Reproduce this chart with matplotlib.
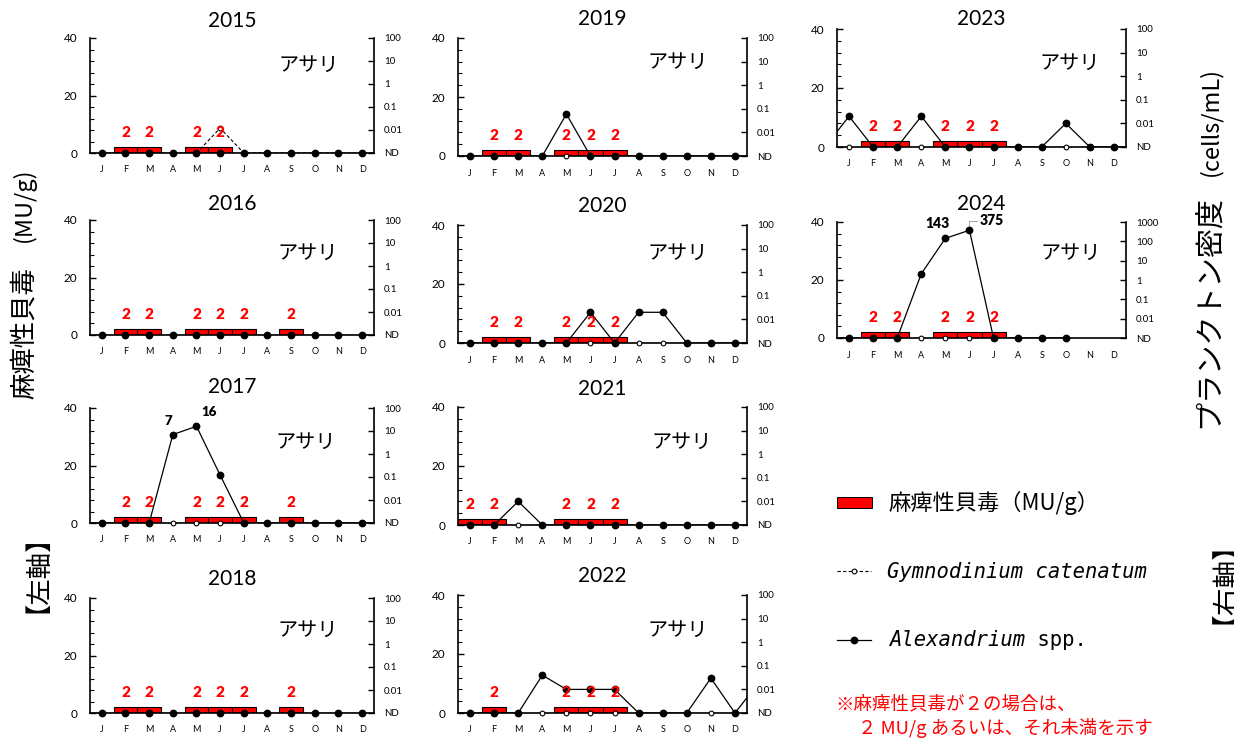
import matplotlib
matplotlib.use('Agg')
import matplotlib.pyplot as plt
import numpy as np
from matplotlib.patches import Rectangle
from matplotlib.lines import Line2D
from matplotlib.ticker import FixedLocator, MultipleLocator, NullFormatter

plt.rcParams['font.family'] = ['Lato', 'Noto Sans CJK JP', 'DejaVu Sans']

ND = 0.001  # "ND" position on the right (log) axis

months = ['J', 'F', 'M', 'A', 'M', 'J', 'J', 'A', 'S', 'O', 'N', 'D']
years = [2015, 2016, 2017, 2018, 2019, 2020, 2021, 2022, 2023, 2024]

# 麻痺性貝毒 (MU/g) ; 0 = no bar
psp_2015 = [0, 2, 2, 0, 2, 2, 0, 0, 0, 0, 0, 0]
psp_2016 = [0, 2, 2, 0, 2, 2, 2, 0, 2, 0, 0, 0]
psp_2017 = [0, 2, 2, 0, 2, 2, 2, 0, 2, 0, 0, 0]
psp_2018 = [0, 2, 2, 0, 2, 2, 2, 0, 2, 0, 0, 0]
psp_2019 = [0, 2, 2, 0, 2, 2, 2, 0, 0, 0, 0, 0]
psp_2020 = [0, 2, 2, 0, 2, 2, 2, 0, 0, 0, 0, 0]
psp_2021 = [2, 2, 0, 0, 2, 2, 2, 0, 0, 0, 0, 0]
psp_2022 = [0, 2, 0, 0, 2, 2, 2, 0, 0, 0, 0, 0]
psp_2023 = [0, 2, 2, 0, 2, 2, 2, 0, 0, 0, 0, 0]
psp_2024 = [0, 2, 2, 0, 2, 2, 2, 0, 0, 0, 0, 0]

# Alexandrium spp. (cells/mL)
alex_2015 = [ND, ND, ND, ND, ND, ND, ND, ND, ND, ND, ND, ND]
alex_2016 = [ND, ND, ND, ND, ND, ND, ND, ND, ND, ND, ND, ND]
alex_2017 = [ND, ND, ND, 7, 16, 0.12, ND, ND, ND, ND, ND, ND]
alex_2018 = [ND, ND, ND, ND, ND, ND, ND, ND, ND, ND, ND, ND]
alex_2019 = [ND, ND, ND, ND, 0.06, ND, ND, ND, ND, ND, ND, ND]
alex_2020 = [ND, ND, ND, ND, ND, 0.02, ND, 0.02, 0.02, ND, ND, ND]
alex_2021 = [ND, ND, 0.01, ND, ND, ND, ND, ND, ND, ND, ND, ND]
alex_2022 = [ND, ND, ND, 0.04, 0.01, 0.01, 0.01, ND, ND, ND, 0.03, ND]
alex_2023 = [0.02, ND, ND, 0.02, ND, ND, ND, ND, ND, 0.01, ND, ND]
alex_2024 = [ND, ND, ND, 2.1, 143, 375, ND, ND, ND, ND, None, None]

# Gymnodinium catenatum (cells/mL)
gym_2015 = [ND, ND, ND, ND, ND, 0.012, ND, ND, ND, ND, ND, ND]
gym_2016 = [ND, ND, ND, ND, ND, ND, ND, ND, ND, ND, ND, ND]
gym_2017 = [ND, ND, ND, ND, ND, ND, ND, ND, ND, ND, ND, ND]
gym_2018 = [ND, ND, ND, ND, ND, ND, ND, ND, ND, ND, ND, ND]
gym_2019 = [ND, ND, ND, ND, ND, ND, ND, ND, ND, ND, ND, ND]
gym_2020 = [ND, ND, ND, ND, ND, ND, ND, ND, ND, ND, ND, ND]
gym_2021 = [ND, ND, ND, ND, ND, ND, ND, ND, ND, ND, ND, ND]
gym_2022 = [ND, ND, ND, ND, ND, ND, ND, ND, ND, ND, ND, ND]
gym_2023 = [ND, ND, ND, ND, ND, ND, ND, ND, ND, ND, ND, ND]
gym_2024 = [ND, ND, ND, ND, ND, ND, ND, ND, ND, ND, None, None]

psp_all = [psp_2015, psp_2016, psp_2017, psp_2018, psp_2019,
           psp_2020, psp_2021, psp_2022, psp_2023, psp_2024]
alex_all = [alex_2015, alex_2016, alex_2017, alex_2018, alex_2019,
            alex_2020, alex_2021, alex_2022, alex_2023, alex_2024]
gym_all = [gym_2015, gym_2016, gym_2017, gym_2018, gym_2019,
           gym_2020, gym_2021, gym_2022, gym_2023, gym_2024]

# value labels on peaks: (year, month index, text)
peak_labels = [(2017, 3, '7'), (2017, 4, '16'), (2024, 4, '143'), (2024, 5, '375')]

# ---------------- layout (pixels) ----------------
W, H = 1234, 740
# year: (left, width, top, bottom, title gap px, species label x, y in axes fraction)
layout = {
    2015: (90, 284, 38, 153, 11, 0.77, 0.765),
    2016: (90, 284, 220, 335, 10, 0.765, 0.71),
    2017: (90, 284, 408, 523, 15, 0.76, 0.70),
    2018: (90, 284, 598, 713, 13, 0.765, 0.72),
    2019: (458, 289, 38, 156, 13, 0.76, 0.79),
    2020: (458, 289, 225, 343, 13, 0.76, 0.76),
    2021: (458, 289, 407, 525, 12, 0.775, 0.70),
    2022: (458, 289, 595, 713, 13, 0.76, 0.70),
    2023: (837, 289, 29, 147, 1, 0.805, 0.71),
    2024: (837, 289, 222, 338, 12, 0.81, 0.73),
}

fig = plt.figure(figsize=(W / 100, H / 100), dpi=100)
fig.patch.set_facecolor('white')

RED = '#FF0000'
x = np.arange(12)


def arr(v):
    return np.array([np.nan if a is None else a for a in v], dtype=float)


for k, yr in enumerate(years):
    left, width, top, bottom, gap, sx, sy = layout[yr]
    ax = fig.add_axes([left / W, 1 - bottom / H, width / W, (bottom - top) / H])
    ax2 = ax.twinx()

    # bars (left axis)
    psp = np.array(psp_all[k], dtype=float)
    ax.bar(x, psp, width=1.0, color=RED, edgecolor='black', linewidth=0.8, zorder=2)
    ax.set_xlim(-0.5, 11.5)
    ax.set_ylim(0, 40)
    ax.yaxis.set_major_locator(FixedLocator([0, 20, 40]))
    ax.yaxis.set_minor_locator(MultipleLocator(4))
    ax.tick_params(axis='y', which='major', direction='in', length=4, width=1,
                   labelsize=8.5, pad=9)
    ax.tick_params(axis='y', which='minor', direction='in', length=3, width=0.8)
    ax.set_xticks(x)
    ax.set_xticklabels(months)
    ax.tick_params(axis='x', which='major', length=0, labelsize=6.5, pad=9)
    for s in ['top', 'right']:
        ax.spines[s].set_visible(False)
    ax.spines['left'].set_linewidth(1.2)
    ax.spines['bottom'].set_linewidth(1.2)

    # right axis (log)
    ax2.set_yscale('log')
    if yr == 2024:
        rt = [0.001, 0.01, 0.1, 1, 10, 100, 1000]
        rl = ['ND', '0.01', '0.1', '1', '10', '100', '1000']
    else:
        rt = [0.001, 0.01, 0.1, 1, 10, 100]
        rl = ['ND', '0.01', '0.1', '1', '10', '100']
    ax2.set_ylim(rt[0], rt[-1])
    ax2.yaxis.set_major_locator(FixedLocator(rt))
    ax2.set_yticklabels(rl)
    ax2.yaxis.set_minor_formatter(NullFormatter())
    ax2.yaxis.set_minor_locator(FixedLocator([]))
    ax2.tick_params(axis='y', which='major', direction='in', length=4, width=1,
                    labelsize=7, pad=7)
    for s in ['top', 'left']:
        ax2.spines[s].set_visible(False)
    ax2.spines['right'].set_linewidth(1.2)
    ax2.spines['bottom'].set_visible(False)

    # series continue across years (neighbouring months drawn, clipped at edges)
    def extended(series_all):
        prev = series_all[k - 1][-1] if k > 0 else None
        nxt = series_all[k + 1][0] if k < len(years) - 1 else None
        return arr([prev] + list(series_all[k]) + [nxt])

    xe = np.arange(-1, 13)
    g = extended(gym_all)
    a = extended(alex_all)
    ax2.plot(xe, g, color='black', lw=0.8, ls=(0, (3, 2)), zorder=3)
    ax2.plot(x, arr(gym_all[k]), ls='none', marker='o', ms=3.4, mfc='white',
             mec='black', mew=0.8, clip_on=False, zorder=4)
    ax2.plot(xe, a, color='black', lw=0.9, zorder=5)
    ax2.plot(x, arr(alex_all[k]), ls='none', marker='o', ms=4.6, mfc='black',
             mec='black', clip_on=False, zorder=6)

    # "2" labels above bars
    for i, v in enumerate(psp_all[k]):
        if v > 0:
            ax2.text(i, 7, f'{v:g}', transform=ax.transData, color=RED,
                     fontsize=11, fontweight='heavy', ha='center', va='center',
                     zorder=7)

    # peak value labels
    for (py, pm, txt) in peak_labels:
        if py != yr:
            continue
        val = alex_all[k][pm]
        if txt == '7':
            ax2.annotate(txt, (pm, val), xytext=(-3, 10), textcoords='offset points',
                         ha='center', va='center', fontsize=9.5, fontweight='heavy')
        elif txt == '16':
            ax2.annotate(txt, (pm, val), xytext=(9, 10), textcoords='offset points',
                         ha='center', va='center', fontsize=9.5, fontweight='heavy')
        elif txt == '143':
            ax2.annotate(txt, (pm, val), xytext=(-6, 11), textcoords='offset points',
                         ha='center', va='center', fontsize=10, fontweight='heavy',
                         arrowprops=dict(arrowstyle='-', color='#A0A0A0', lw=0.7,
                                         shrinkA=4, shrinkB=2))
        else:
            ax2.annotate(txt, (pm, val), xytext=(16, 7), textcoords='offset points',
                         ha='center', va='center', fontsize=10, fontweight='heavy',
                         arrowprops=dict(arrowstyle='-', color='#A0A0A0', lw=0.7,
                                         connectionstyle='angle,angleA=0,angleB=90',
                                         shrinkA=11, shrinkB=3))

    ax.set_title(str(yr), fontsize=15, pad=gap * 0.72)
    ax.text(sx, sy, 'アサリ', transform=ax.transAxes, fontsize=14.5,
            family=['Noto Sans CJK JP'], ha='center', va='center')
    ax.set_zorder(1)
    ax2.set_zorder(2)
    ax.patch.set_visible(False)

# ---------------- legend, notes and axis titles (pixel overlay) ----------------
ov = fig.add_axes([0, 0, 1, 1], zorder=10)
ov.set_xlim(0, W)
ov.set_ylim(H, 0)
ov.axis('off')
ov.patch.set_visible(False)

JP = ['Noto Sans CJK JP', 'DejaVu Sans']
ov.add_patch(Rectangle((837, 497), 35, 11, facecolor=RED, edgecolor='black', lw=0.7))
ov.text(888, 503, '麻痺性貝毒（MU/g）', fontsize=16, family=JP, va='center', ha='left')

ov.add_line(Line2D([837, 871], [571, 571], color='black', lw=0.8, ls=(0, (3, 2))))
ov.plot([854], [571], marker='o', ms=3.4, mfc='white', mec='black', mew=0.8)
ov.text(887, 572, 'Gymnodinium catenatum', fontsize=14.8, family='DejaVu Sans Mono',
        style='italic', va='center', ha='left')

ov.add_line(Line2D([837, 871], [640, 640], color='black', lw=0.9))
ov.plot([854], [640], marker='o', ms=4.6, mfc='black', mec='black')
t_alex = ov.text(889, 640, 'Alexandrium', fontsize=14.8, family='DejaVu Sans Mono',
                 style='italic', va='center', ha='left')
ov.annotate(' spp.', xy=(1, 0.5), xycoords=t_alex, fontsize=14.8,
            family='DejaVu Sans Mono', va='center', ha='left')

ov.text(835, 704, '※麻痺性貝毒が２の場合は、', fontsize=13.3, family=JP, color=RED,
        va='center', ha='left')
ov.text(858, 728, '２ MU/g あるいは、それ未満を示す', fontsize=13.3, family=JP, color=RED,
        va='center', ha='left')

# left axis title
ov.text(24, 560, '【左軸】', fontsize=19, family=JP, rotation=90, va='center', ha='center')
ov.text(24, 333, '麻痺性貝毒', fontsize=19, family=JP, rotation=90, va='center', ha='center')
ov.text(24, 205, '(MU/g)', fontsize=17, family=JP, rotation=90, va='center', ha='center')
# right axis title
ov.text(1210, 568, '【右軸】', fontsize=20, family=JP, rotation=90, va='center', ha='center')
ov.text(1210, 312, 'プランクトン密度', fontsize=21, family=JP, rotation=90,
        va='center', ha='center')
ov.text(1210, 122, '(cells/mL)', fontsize=17, family=JP, rotation=90,
        va='center', ha='center')

fig.savefig('out.png', dpi=100, facecolor='white')
